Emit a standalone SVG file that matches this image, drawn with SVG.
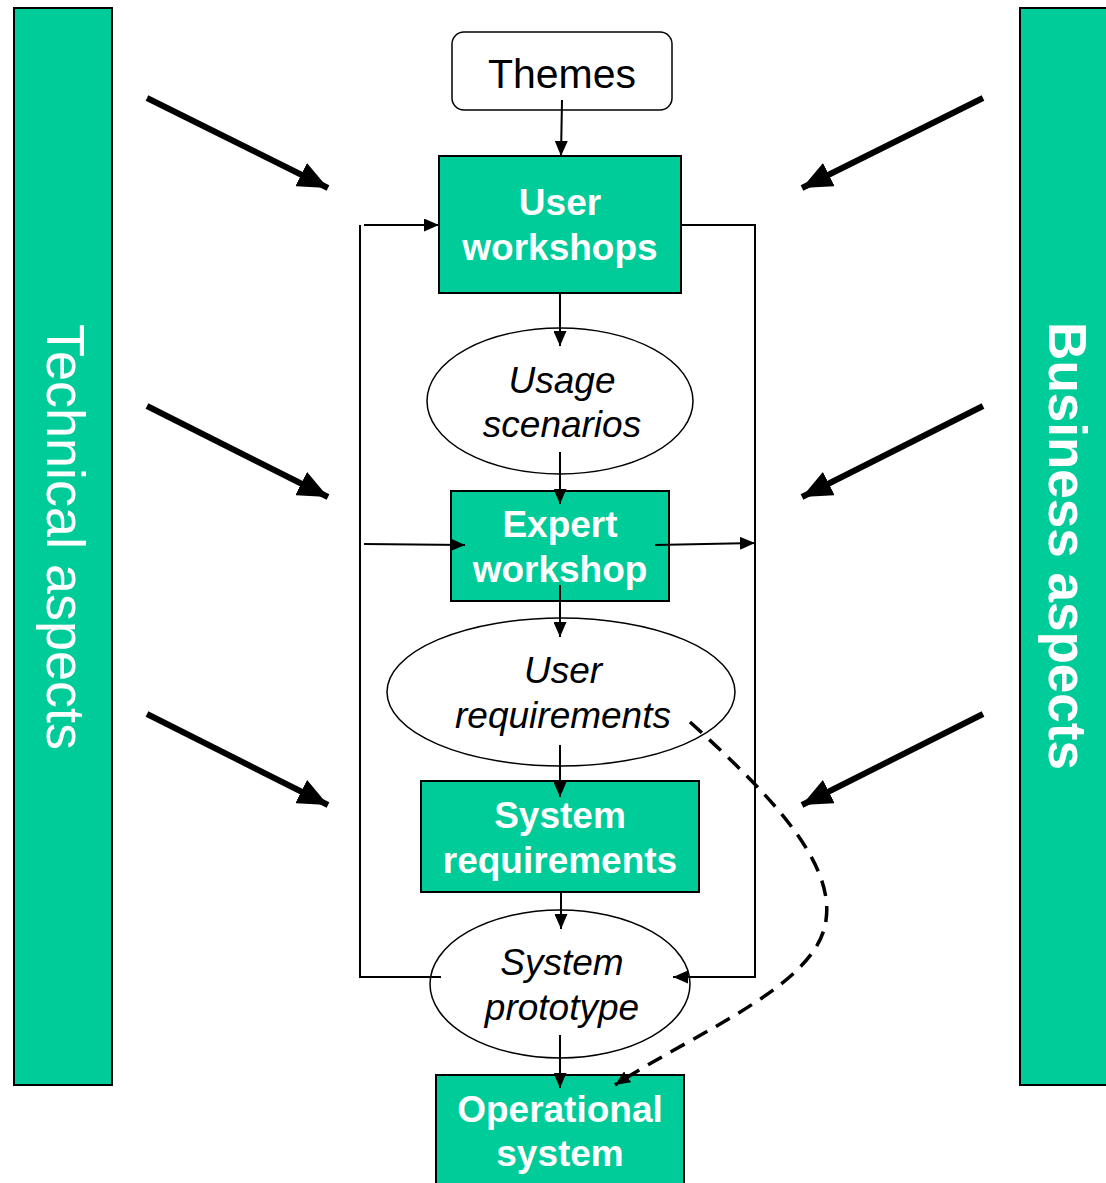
<svg xmlns="http://www.w3.org/2000/svg" width="1106" height="1183" viewBox="0 0 1106 1183">
<style>
.bar{fill:#00CC99;stroke:#000;stroke-width:2}
.box{fill:#00CC99;stroke:#000;stroke-width:2}
.ell{fill:#fff;stroke:#000;stroke-width:1.5}
.bt{font-family:"Liberation Sans",Arial,sans-serif;font-weight:bold;font-size:37px;fill:#fff;text-anchor:middle}
.it{font-family:"Liberation Sans",Arial,sans-serif;font-style:italic;font-size:37px;fill:#000;text-anchor:middle}
.ln{fill:none;stroke:#000;stroke-width:2}
.thick{fill:none;stroke:#000;stroke-width:6}
</style>
<defs>
<marker id="ah" markerUnits="userSpaceOnUse" markerWidth="15" markerHeight="13" refX="15" refY="6.5" orient="auto"><path d="M0,0 L15,6.5 L0,13 Z" fill="#000"/></marker>
<marker id="big" markerUnits="userSpaceOnUse" markerWidth="30" markerHeight="26" refX="30" refY="13" orient="auto"><path d="M0,0 L30,13 L0,26 Z" fill="#000"/></marker>
</defs>
<g id="technical-aspects">
<rect class="bar" x="14" y="8" width="98" height="1077"/>
<text transform="translate(47,537) rotate(90)" font-family="'Liberation Sans',Arial,sans-serif" font-size="54" fill="#fff" text-anchor="middle">Technical aspects</text>
</g>
<g id="business-aspects">
<rect class="bar" x="1020" y="8" width="100" height="1077"/>
<text transform="translate(1049,546) rotate(90)" font-family="'Liberation Sans',Arial,sans-serif" font-weight="bold" font-size="53" fill="#fff" text-anchor="middle">Business aspects</text>
</g>
<g id="themes">
<rect x="452" y="32" width="220" height="78" rx="12" fill="#fff" stroke="#000" stroke-width="1.5"/>
<text x="562" y="88" font-family="'Liberation Sans',Arial,sans-serif" font-size="41" text-anchor="middle">Themes</text>
</g>
<g id="user-workshops">
<rect class="box" x="439" y="156" width="242" height="137"/>
<text class="bt" x="560" y="215">User</text>
<text class="bt" x="560" y="260">workshops</text>
</g>
<g id="usage-scenarios">
<ellipse class="ell" cx="560" cy="401" rx="133" ry="73"/>
<text class="it" x="562" y="393">Usage</text>
<text class="it" x="562" y="437">scenarios</text>
</g>
<g id="expert-workshop">
<rect class="box" x="451" y="491" width="218" height="110"/>
<text class="bt" x="560" y="537">Expert</text>
<text class="bt" x="560" y="582">workshop</text>
</g>
<g id="user-requirements">
<ellipse class="ell" cx="561" cy="692" rx="174" ry="74"/>
<text class="it" x="563" y="683">User</text>
<text class="it" x="563" y="728">requirements</text>
</g>
<g id="system-requirements">
<rect class="box" x="421" y="781" width="278" height="111"/>
<text class="bt" x="560" y="828">System</text>
<text class="bt" x="560" y="873">requirements</text>
</g>
<g id="system-prototype">
<ellipse class="ell" cx="560" cy="984" rx="130" ry="74"/>
<text class="it" x="562" y="975">System</text>
<text class="it" x="562" y="1020">prototype</text>
</g>
<g id="operational-system">
<rect class="box" x="436" y="1075" width="248" height="120"/>
<text class="bt" x="560" y="1122">Operational</text>
<text class="bt" x="560" y="1166">system</text>
</g>
<g id="connectors">
<path class="ln" d="M562,100 L561,156" marker-end="url(#ah)"/>
<path class="ln" d="M560,293 L560,346" marker-end="url(#ah)"/>
<path class="ln" d="M560,452 L560,504" marker-end="url(#ah)"/>
<path class="ln" d="M560,585 L560,637" marker-end="url(#ah)"/>
<path class="ln" d="M560,745 L560,797" marker-end="url(#ah)"/>
<path class="ln" d="M561,892 L561,929" marker-end="url(#ah)"/>
<path class="ln" d="M560,1035 L560,1088" marker-end="url(#ah)"/>
<path class="ln" d="M441,977 L360,977 L360,225"/>
<path class="ln" d="M364,225 L439,225" marker-end="url(#ah)"/>
<path class="ln" d="M681,225 L755,225 L755,977 L673,977" marker-end="url(#ah)"/>
<path class="ln" d="M364,544 L465,545" marker-end="url(#ah)"/>
<path class="ln" d="M655,545 L755,543" marker-end="url(#ah)"/>
<path d="M690,722 C765,790 835,860 826,920 C818,985 700,1030 615,1085" fill="none" stroke="#000" stroke-width="3.5" stroke-dasharray="16,10" marker-end="url(#ah)"/>
<path class="thick" d="M147,98 L328,188" marker-end="url(#big)"/>
<path class="thick" d="M147,406 L328,497" marker-end="url(#big)"/>
<path class="thick" d="M147,714 L328,805" marker-end="url(#big)"/>
<path class="thick" d="M983,98 L802,188" marker-end="url(#big)"/>
<path class="thick" d="M983,406 L802,497" marker-end="url(#big)"/>
<path class="thick" d="M983,714 L802,805" marker-end="url(#big)"/>
</g>
</svg>
